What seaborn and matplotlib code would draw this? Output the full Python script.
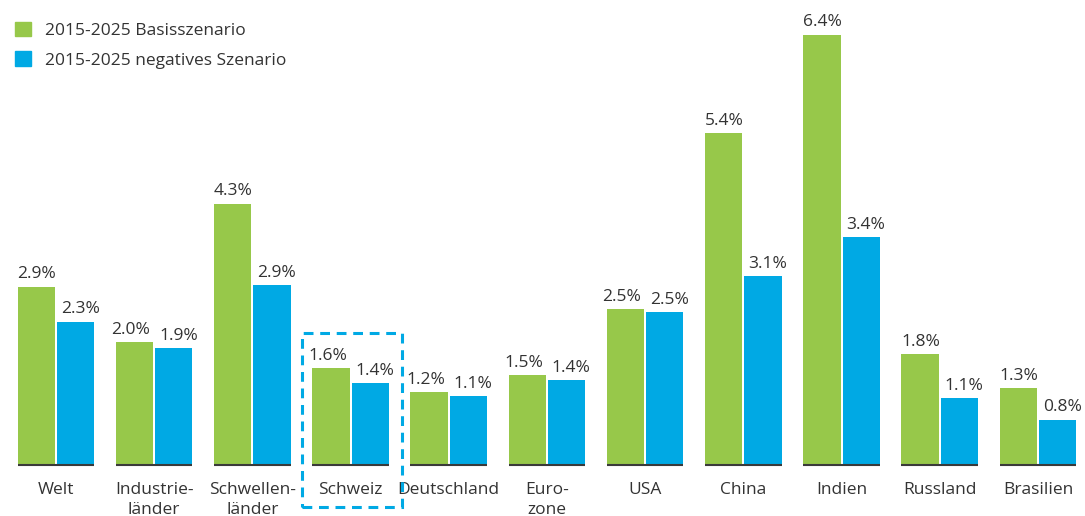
import matplotlib
matplotlib.use("Agg")
import matplotlib.pyplot as plt
import matplotlib.patches as mpatches
import pandas as pd
import seaborn as sns

categories = ["Welt", "Industrie-\nländer", "Schwellen-\nländer", "Schweiz",
              "Deutschland", "Euro-\nzone", "USA", "China", "Indien",
              "Russland", "Brasilien"]
series_names = ["2015-2025 Basisszenario", "2015-2025 negatives Szenario"]

# printed labels
basis_labels = [2.9, 2.0, 4.3, 1.6, 1.2, 1.5, 2.5, 5.4, 6.4, 1.8, 1.3]
negativ_labels = [2.3, 1.9, 2.9, 1.4, 1.1, 1.4, 2.5, 3.1, 3.4, 1.1, 0.8]

# bar heights as drawn in the picture
basis_bars = [2.9, 2.0, 4.25, 1.58, 1.18, 1.46, 2.53, 5.4, 7.0, 1.8, 1.25]
negativ_bars = [2.33, 1.9, 2.92, 1.33, 1.12, 1.38, 2.49, 3.07, 3.7, 1.09, 0.74]

highlight = "Schweiz"

green = "#97c84a"
blue = "#00a9e4"
text_color = "#333333"

df = pd.DataFrame({
    "Region": categories * 2,
    "Szenario": [series_names[0]] * len(categories) + [series_names[1]] * len(categories),
    "Wert": basis_bars + negativ_bars,
})

sns.set_style("white")
plt.rcParams["font.family"] = ["Open Sans", "DejaVu Sans"]

fig = plt.figure(figsize=(10.85, 5.16), dpi=100)
ax = fig.add_axes([0, 0, 1, 1])

sns.barplot(data=df, x="Region", y="Wert", hue="Szenario", order=categories,
            hue_order=series_names, palette=[green, blue], width=0.8, gap=0.05,
            linewidth=0, saturation=1, errorbar=None, ax=ax)

ax.set_xlim(-0.57, 10.479)
ax.set_ylim(-0.829, 7.561)
ax.axis("off")

for i, cat in enumerate(categories):
    # short baseline under each group
    ax.plot([i - 0.39, i + 0.39], [0, 0], color="#3a3a3a", lw=1.5,
            solid_capstyle="butt", zorder=3)

    # value labels
    g_dx = -4 if abs(basis_bars[i] - negativ_bars[i]) < 0.3 else 0
    ax.annotate(f"{basis_labels[i]:.1f}%", (i - 0.195, basis_bars[i]),
                xytext=(g_dx * 0.72, 6), textcoords="offset points",
                ha="center", va="baseline", fontsize=12.5, color=text_color)
    ax.annotate(f"{negativ_labels[i]:.1f}%", (i + 0.195, negativ_bars[i]),
                xytext=(5 * 0.72, 6), textcoords="offset points",
                ha="center", va="baseline", fontsize=12.5, color=text_color)

    # category labels, one text per line
    for j, line in enumerate(cat.split("\n")):
        ax.text(i, -0.478 - j * 19.5 / 61.5, line, ha="center", va="baseline",
                fontsize=12.5, color=text_color)

# dashed box round Schweiz
k = categories.index(highlight)
box = mpatches.Rectangle((k - 0.49, -0.68), 1.01, 2.83, fill=False,
                         edgecolor=blue, lw=2.2, linestyle=(0, (3.2, 2.2)),
                         zorder=4, clip_on=False)
ax.add_patch(box)

handles = [mpatches.Patch(color=green, label=series_names[0]),
           mpatches.Patch(color=blue, label=series_names[1])]
ax.legend(handles=handles, loc="upper left", bbox_to_anchor=(15 / 1085, 1 - 22 / 516),
          frameon=False, fontsize=12.5, handlelength=0.9, handleheight=0.9,
          handletextpad=0.85, labelspacing=0.7, borderpad=0, borderaxespad=0,
          labelcolor=text_color)

fig.savefig("out.png", dpi=100)
